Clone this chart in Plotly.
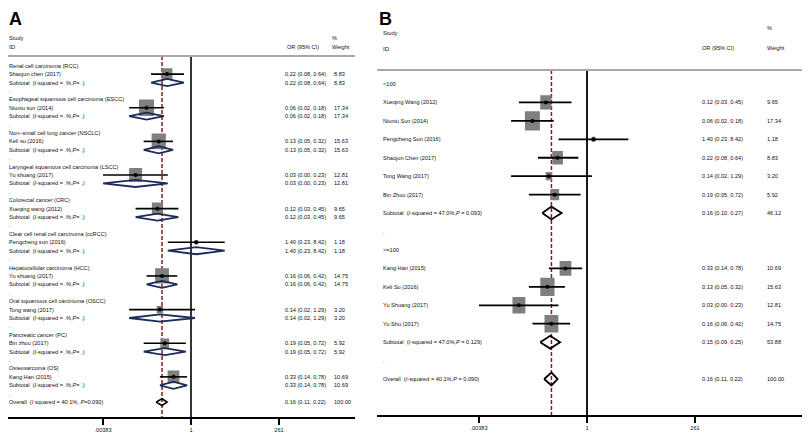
import plotly.graph_objects as go

# ---------------- Data: Panel A (by cancer type) ----------------
groups_a = [
    "Renal cell carcinoma (RCC)",
    "Esophageal squamous cell carcinoma (ESCC)",
    "Non\u2212small cell lung cancer (NSCLC)",
    "Laryngeal squamous cell carcinoma (LSCC)",
    "Colorectal cancer (CRC)",
    "Clear cell renal cell carcinoma (ccRCC)",
    "Hepatocellular carcinoma (HCC)",
    "Oral squamous cell carcinoma (OSCC)",
    "Pancreatic cancer (PC)",
    "Osteosarcoma (OS)",
]
studies_a = [
    "Shaojun chen (2017)", "Niuniu sun (2014)", "Keli su (2016)", "Yu shuang (2017)",
    "Xueqing wang (2012)", "Pengcheng sun (2016)", "Yu shuang (2017)", "Tong wang (2017)",
    "Bin zhou (2017)", "Kang Han (2015)",
]
or_a = [0.22, 0.06, 0.13, 0.03, 0.12, 1.40, 0.16, 0.14, 0.19, 0.33]
lo_a = [0.08, 0.02, 0.05, 0.00383, 0.03, 0.23, 0.06, 0.02, 0.05, 0.14]
hi_a = [0.64, 0.18, 0.32, 0.23, 0.45, 8.42, 0.42, 1.29, 0.72, 0.78]
wt_a = [8.83, 17.34, 15.63, 12.81, 9.65, 1.18, 14.75, 3.20, 5.92, 10.69]
subtotal_label_a = "Subtotal  (<i>I</i>-squared = .%,<i>P</i>= .)"
overall_label_a = "Overall  (<i>I</i> squared = 40.1%, <i>P</i>=0.090)"

# ---------------- Data: Panel B (by sample size) ----------------
subgroups_b = ["&lt;100", "&gt;=100"]
studies_b = [
    ["Xueqing Wang (2012)", "Niuniu Sun (2014)", "Pengcheng Sun (2016)",
     "Shaojun Chen (2017)", "Tong Wang (2017)", "Bin Zhou (2017)"],
    ["Kang Han (2015)", "Keli Su (2016)", "Yu Shuang (2017)", "Yu Shu (2017)"],
]
or_b = [[0.12, 0.06, 1.40, 0.22, 0.14, 0.19], [0.33, 0.13, 0.03, 0.16]]
lo_b = [[0.03, 0.02, 0.23, 0.08, 0.02, 0.05], [0.14, 0.05, 0.00383, 0.06]]
hi_b = [[0.45, 0.18, 8.42, 0.64, 1.29, 0.72], [0.78, 0.32, 0.23, 0.42]]
wt_b = [[9.65, 17.34, 1.18, 8.83, 3.20, 5.92], [10.69, 15.63, 12.81, 14.75]]
sub_labels_b = ["Subtotal  (<i>I</i>-squared = 47.0%,<i>P</i> = 0.093)",
                "Subtotal  (<i>I</i>-squared = 47.0%,<i>P</i> = 0.129)"]
sub_or_b = [0.16, 0.15]
sub_lo_b = [0.10, 0.09]
sub_hi_b = [0.27, 0.25]
sub_wt_b = [46.12, 53.88]
overall_label_b = "Overall  (<i>I</i>-squared = 40.1%,<i>P</i> = 0.090)"

# overall pooled estimate (both panels)
ov_or, ov_lo, ov_hi, ov_wt = 0.16, 0.11, 0.22, 100.00

tick_vals = [0.00383, 1, 261]
tick_text = [".00383", "1", "261"]

# ---------------- Geometry / style ----------------
OFF = 8                     # page body margin of the html page
W, H = 810 - OFF, 435 - OFF
FONT = "Liberation Sans, Arial, sans-serif"
FS = 5.6
BOX_K = 3.6  # px per sqrt(weight)
NAVY = "#1c2b5a"
DASH_RED = "#8b1a1a"


def PX(p):   # reference x pixel -> paper fraction
    return (p - OFF) / W


def PY(p):   # reference y pixel -> paper fraction
    return 1 - (p - OFF) / H


def fmt_ci(e, l, h):
    return f"{e:.2f} ({l:.2f}, {h:.2f})"


fig = go.Figure()
annotations = []
shapes = []


def txt(x_px, y, yref, text, size=FS, anchor="left"):
    annotations.append(dict(x=PX(x_px), y=y, xref="paper", yref=yref, text=text,
                            showarrow=False, xanchor=anchor, yanchor="middle",
                            font=dict(family=FONT, size=size, color="#111")))


def panel_letter(x_px, letter):
    annotations.append(dict(x=PX(x_px), y=1, xref="paper", yref="paper",
                            text=f"<b>{letter}</b>", showarrow=False,
                            xanchor="left", yanchor="top", valign="top",
                            height=17, borderpad=0,
                            font=dict(family=FONT, size=18, color="black")))


def build_panel(xa, ya, rows, est, lo, hi, wt, diamonds, ppd, rowpx, aspect,
                dia_color, dia_width, top_row, bottom_row, line_w):
    # dashed pooled line
    fig.add_trace(go.Scatter(x=[ov_or, ov_or], y=[top_row, bottom_row], mode="lines",
                             line=dict(color=DASH_RED, width=1.5, dash="4px,2px"),
                             xaxis=xa, yaxis=ya, hoverinfo="skip"))
    # null line
    fig.add_trace(go.Scatter(x=[1, 1], y=[top_row, bottom_row], mode="lines",
                             line=dict(color="black", width=line_w),
                             xaxis=xa, yaxis=ya, hoverinfo="skip"))
    # boxes (area proportional to weight)
    bx, by = [], []
    for r, e, w in zip(rows, est, wt):
        wpx = BOX_K * (w ** 0.5)
        hpx = wpx * aspect
        f = 10 ** (wpx / 2 / ppd)
        hh = hpx / 2 / rowpx
        bx += [e / f, e * f, e * f, e / f, e / f, None]
        by += [r - hh, r - hh, r + hh, r + hh, r - hh, None]
    fig.add_trace(go.Scatter(x=bx, y=by, mode="lines", fill="toself",
                             fillcolor="#7f7f7f", line=dict(width=0, color="#7f7f7f"),
                             xaxis=xa, yaxis=ya, hoverinfo="skip"))
    # CI lines
    cx, cy = [], []
    for r, l, h in zip(rows, lo, hi):
        cx += [l, h, None]
        cy += [r, r, None]
    fig.add_trace(go.Scatter(x=cx, y=cy, mode="lines",
                             line=dict(color="black", width=line_w),
                             xaxis=xa, yaxis=ya, hoverinfo="skip"))
    # point estimates
    fig.add_trace(go.Scatter(x=est, y=rows, mode="markers",
                             marker=dict(symbol="circle", size=4, color="black"),
                             xaxis=xa, yaxis=ya, hoverinfo="skip"))
    # diamonds (pooled estimates)
    dx, dy = [], []
    for r, e, l, h, hf in diamonds:
        dx += [l, e, h, e, l, None]
        dy += [r, r - hf, r, r + hf, r, None]
    fig.add_trace(go.Scatter(x=dx, y=dy, mode="lines",
                             line=dict(color=dia_color, width=dia_width),
                             xaxis=xa, yaxis=ya, hoverinfo="skip"))


# ---------------- Panel A ----------------
A_L, A_R, A_ONE = OFF, 355, 191
A_PPD = 36.4
A_ROW0, A_ROWPX, A_AXIS = 65.7, 8.41, 417
a_top = (OFF - A_ROW0) / A_ROWPX
a_bot = (A_AXIS - A_ROW0) / A_ROWPX
a_hdr = (56 - A_ROW0) / A_ROWPX

rows_a_study = [4 * i + 1 for i in range(len(studies_a))]
dia_a = [(4 * i + 2, or_a[i], lo_a[i], hi_a[i], 0.42) for i in range(len(studies_a))]
row_ov_a = 4 * len(studies_a)
build_panel("x", "y", rows_a_study, or_a, lo_a, hi_a, wt_a, dia_a, A_PPD, A_ROWPX,
            1.1, NAVY, 1.8, a_hdr, a_bot, 1.6)
fig.add_trace(go.Scatter(x=[ov_lo, ov_or, ov_hi, ov_or, ov_lo],
                         y=[row_ov_a, row_ov_a - 0.4, row_ov_a, row_ov_a + 0.4, row_ov_a],
                         mode="lines", line=dict(color="black", width=1.6),
                         xaxis="x", yaxis="y", hoverinfo="skip"))

panel_letter(OFF, "A")
ya_px = lambda p: (p - A_ROW0) / A_ROWPX
txt(7, ya_px(38.3), "y", "Study")
txt(7, ya_px(46.7), "y", "ID", 6.2)
txt(330, ya_px(38), "y", "%")
txt(330, ya_px(46.7), "y", "Weight")
txt(285, ya_px(46.7), "y", "OR (95% CI)")
for i, g in enumerate(groups_a):
    r = 4 * i
    txt(7, r, "y", g)
    txt(7, r + 1, "y", studies_a[i])
    txt(7, r + 2, "y", subtotal_label_a)
    txt(7, r + 3, "y", ".")
    ci = fmt_ci(or_a[i], lo_a[i], hi_a[i])
    txt(283, r + 1, "y", ci)
    txt(283, r + 2, "y", ci)
    txt(332, r + 1, "y", f"{wt_a[i]:.2f}")
    txt(332, r + 2, "y", f"{wt_a[i]:.2f}")
txt(7, row_ov_a, "y", overall_label_a)
txt(283, row_ov_a, "y", fmt_ci(ov_or, ov_lo, ov_hi))
txt(332, row_ov_a, "y", f"{ov_wt:.2f}")
shapes.append(dict(type="line", xref="paper", yref="y", x0=PX(A_L), x1=PX(A_R),
                   y0=a_hdr, y1=a_hdr, line=dict(color="#a8a8a8", width=2)))

# ---------------- Panel B ----------------
B_L, B_R, B_ONE = 377, 810, 587
B_PPD = 44.69
B_ROW0, B_ROWPX, B_AXIS = 84, 18.44, 415
b_top = (OFF - B_ROW0) / B_ROWPX
b_bot = (B_AXIS - B_ROW0) / B_ROWPX
b_hdr = (70 - B_ROW0) / B_ROWPX

rows_b, est_b, l_b, h_b, w_b, dia_b = [], [], [], [], [], []
row = 0
row_meta = []
for gi, sg in enumerate(subgroups_b):
    row_meta.append((row, sg, None, None))
    row += 1
    for j, s in enumerate(studies_b[gi]):
        rows_b.append(row)
        est_b.append(or_b[gi][j]); l_b.append(lo_b[gi][j]); h_b.append(hi_b[gi][j]); w_b.append(wt_b[gi][j])
        row_meta.append((row, s, fmt_ci(or_b[gi][j], lo_b[gi][j], hi_b[gi][j]), f"{wt_b[gi][j]:.2f}"))
        row += 1
    dia_b.append((row, sub_or_b[gi], sub_lo_b[gi], sub_hi_b[gi], 0.35))
    row_meta.append((row, sub_labels_b[gi], fmt_ci(sub_or_b[gi], sub_lo_b[gi], sub_hi_b[gi]),
                     f"{sub_wt_b[gi]:.2f}"))
    row += 1
    row_meta.append((row, ".", None, None))
    row += 1
row_ov_b = row
dia_b.append((row_ov_b, ov_or, ov_lo, ov_hi, 0.35))
row_meta.append((row_ov_b, overall_label_b, fmt_ci(ov_or, ov_lo, ov_hi), f"{ov_wt:.2f}"))

build_panel("x2", "y2", rows_b, est_b, l_b, h_b, w_b, dia_b, B_PPD, B_ROWPX,
            1.27, "black", 1.8, b_hdr, b_bot, 1.8)

panel_letter(378, "B")
yb_px = lambda p: (p - B_ROW0) / B_ROWPX
txt(381, yb_px(33), "y2", "Study")
txt(381, yb_px(48), "y2", "ID", 6.2)
txt(765, yb_px(28), "y2", "%")
txt(765, yb_px(48), "y2", "Weight")
txt(700, yb_px(48), "y2", "OR (95% CI)")
for r, lab, ci, wt in row_meta:
    txt(381, r, "y2", lab)
    if ci:
        txt(700, r, "y2", ci)
        txt(765, r, "y2", wt)
shapes.append(dict(type="line", xref="paper", yref="y2", x0=PX(B_L), x1=PX(B_R),
                   y0=b_hdr, y1=b_hdr, line=dict(color="#a8a8a8", width=2)))

# ---------------- Axes ----------------
xa_common = dict(type="log", showgrid=False, zeroline=False, showline=True,
                 linecolor="black", linewidth=1.6, ticks="outside", ticklen=6,
                 tickwidth=1.6, tickcolor="black", tickvals=tick_vals, ticktext=tick_text,
                 tickfont=dict(family=FONT, size=5.6, color="#111"), fixedrange=True)
fig.update_layout(
    width=W, height=H, margin=dict(l=0, r=0, t=0, b=0),
    paper_bgcolor="white", plot_bgcolor="white", showlegend=False,
    xaxis=dict(domain=[PX(A_L), PX(A_R)], anchor="y",
               range=[-(A_ONE - A_L) / A_PPD, (A_R - A_ONE) / A_PPD], **xa_common),
    xaxis2=dict(domain=[PX(B_L), PX(B_R)], anchor="y2",
                range=[-(B_ONE - B_L) / B_PPD, (B_R - B_ONE) / B_PPD], **xa_common),
    yaxis=dict(domain=[PY(A_AXIS), 1], range=[a_bot, a_top], visible=False, anchor="x"),
    yaxis2=dict(domain=[PY(B_AXIS), 1], range=[b_bot, b_top], visible=False, anchor="x2"),
    annotations=annotations, shapes=shapes,
)

fig.write_html("out.html")
